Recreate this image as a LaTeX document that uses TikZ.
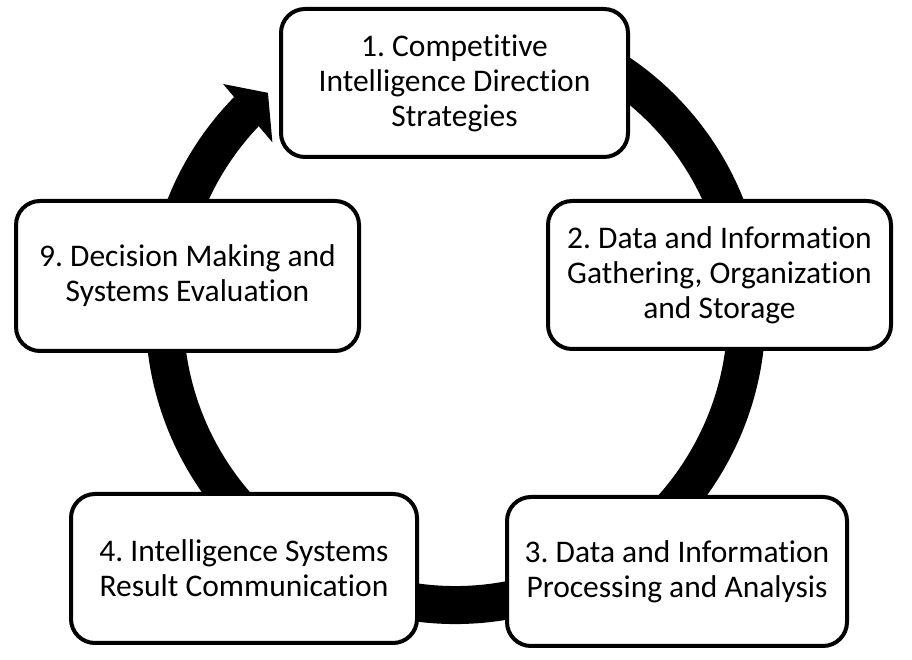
\documentclass[tikz,border=0pt]{standalone}
\usepackage{fontspec}
\setmainfont{Carlito}[Ligatures=NoCommon]
\usetikzlibrary{calc}
\begin{document}
\frenchspacing
\begin{tikzpicture}[x=1pt,y=1pt,
  stagebox/.style={draw=black, line width=4pt, rounded corners=24pt, fill=white,
    align=center, inner sep=0pt, font=\fontsize{31.5}{35}\selectfont},
  ring/.style={line width=38pt, line cap=butt, draw=black}]
\useasboundingbox (0,0) rectangle (912,660);
\coordinate (c) at (455.5,346);
% circular arrow
\draw[ring] ($(c)+(62:291)$) arc[start angle=62, end angle=-224.4, radius=291];
\fill[black] ($(c)+(135.3:327)$) -- ($(c)+(130.3:290)$) -- ($(c)+(136.85:251)$) -- cycle;
% boxes
\node[stagebox, minimum width=347pt, minimum height=148pt] (b1) at (454.5,577)
  {1. Competitive\\Intelligence Direction\\Strategies};
\node[stagebox, minimum width=343pt, minimum height=148pt] (b2) at (719.5,385)
  {2. Data and Information\\Gathering, Organization\\and Storage};
\node[stagebox, minimum width=340pt, minimum height=149pt] (b3) at (677,88.5)
  {3. Data and Information\\Processing and Analysis};
\node[stagebox, minimum width=346pt, minimum height=149pt] (b4) at (244,91.5)
  {4. Intelligence Systems\\Result Communication};
\node[stagebox, minimum width=343pt, minimum height=150pt] (b9) at (187.5,384)
  {9. Decision Making and\\Systems Evaluation};
\end{tikzpicture}
\end{document}
